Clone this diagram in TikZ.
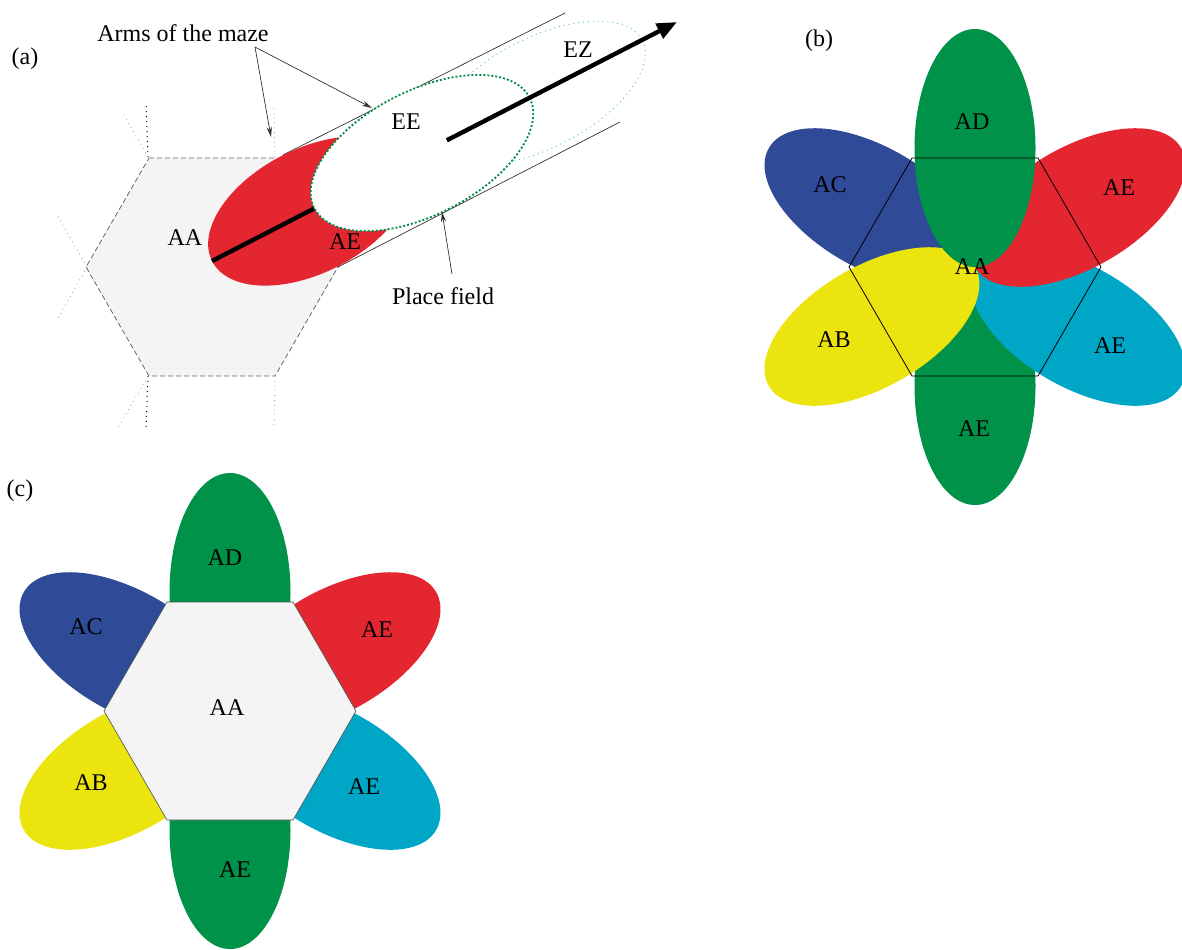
\documentclass[tikz,border=0pt]{standalone}
\usepackage{fontspec}
\setmainfont{Liberation Serif}
\usetikzlibrary{calc}
\usetikzlibrary{arrows.meta}
\definecolor{petalGreen}{RGB}{0,146,72}
\definecolor{petalBlue}{RGB}{47,74,150}
\definecolor{petalRed}{RGB}{228,38,49}
\definecolor{petalYellow}{RGB}{236,228,15}
\definecolor{petalCyan}{RGB}{0,166,198}
\definecolor{hexGray}{RGB}{244,244,244}
\definecolor{fieldGreen}{RGB}{0,140,70}
\definecolor{zoneCyan}{RGB}{70,185,200}
\tikzset{field label/.style={inner sep=1}}
\tikzset{pointer/.style={-{Stealth[length=5pt,width=2.6pt]}, line width=0.35pt, black!80}}
\newcommand{\petal}[2]{\fill[#2, rotate=#1] (119,0) ellipse (119 and 60.5);}

\begin{document}
\begin{tikzpicture}[x=0.5pt, y=-0.5pt, font=\fontsize{12}{14}\selectfont]
            \useasboundingbox (0,0) rectangle (1182,949);

            \def \hexagonPath{(-63,-109) -- (63,-109) -- (126,0) -- (63,109) -- (-63,109) -- (-126,0) -- cycle}
            \def \mazeCenter{212,267}
            \def \flowerCenter{975,267}
            \def \tileCenter{230,711}

            % (a) the hexagon and one arm
            \scope[shift={(\mazeCenter)}]
              \fill[hexGray] \hexagonPath;
              \draw[black!60, line width=0.4pt, dash pattern=on 2.5pt off 1.5pt] \hexagonPath;
            \endscope
            \draw[black, line width=0.5pt, dotted] (148,157) -- (146,105);
            \draw[gray!80, line width=0.4pt, dotted] (148,157) -- (123,113);
            \draw[gray!80, line width=0.4pt, dotted] (87,267) -- (57,215);
            \draw[gray!80, line width=0.4pt, dotted] (87,267) -- (57,320);
            \draw[black, line width=0.5pt, dotted] (148,376) -- (146,428);
            \draw[gray!80, line width=0.4pt, dotted] (148,376) -- (118,428);
            \draw[gray!80, line width=0.4pt, dotted] (275,157) -- (274,105);
            \draw[gray!80, line width=0.4pt, dotted] (275,376) -- (274,428);
            \draw[black!80, line width=0.35pt] (283,155) -- (565,13);
            \draw[black!80, line width=0.35pt] (338,267) -- (620,122);

            \coordinate (pathStart) at (212,261);
            \coordinate (pathEnd) at (677,22);
            \draw[zoneCyan, line width=0.45pt, dotted, rotate around={27.2:(540,93)}] (540,93) ellipse (115 and 55);
            \fill[petalRed, rotate around={27.2:(310,211)}] (310,211) ellipse (110 and 62);
            \draw[line width=2.2pt] (pathStart) -- ($(pathStart)!0.45!(pathEnd)$);
            \fill[white, rotate around={27.2:(422,153)}] (422,153) ellipse (121 and 62);
            \draw[fieldGreen, line width=0.9pt, dash pattern=on 1pt off 1pt, rotate around={27.2:(422,153)}] (422,153) ellipse (121 and 62);
            \draw[line width=2.2pt, -{Triangle[length=10pt,width=8pt]}] ($(pathStart)!0.505!(pathEnd)$) -- (pathEnd);

            \node[field label] (labelA) at (25,59) {(a)};
            \node[field label] (armsLabel) at (183,33) {Arms of the maze};
            \node[field label] (mazeAA) at (185,238) {AA};
            \node[field label] (mazeAE) at (345,242) {AE};
            \node[field label] (mazeEE) at (406,122) {EE};
            \node[field label] (mazeEZ) at (578,50) {EZ};
            \node[field label] (placeLabel) at (443,296) {Place field};
            \coordinate (armsFork) at (255,47);
            \coordinate (armTipLeft) at (271,137);
            \coordinate (armTipRight) at (372,108);
            \coordinate (placeFork) at (452,274);
            \coordinate (placeTip) at (442,212);
            \draw[pointer] (armsFork) -- (armTipLeft);
            \draw[pointer] (armsFork) -- (armTipRight);
            \draw[pointer] (placeFork) -- (placeTip);

            % (b) overlapping place fields
            \scope[shift={(\flowerCenter)}]
              \petal{270}{petalGreen}
              \petal{330}{petalCyan}
              \petal{30}{petalRed}
              \petal{150}{petalBlue}
              \petal{210}{petalYellow}
              \petal{90}{petalGreen}
              \draw[black, line width=0.4pt] \hexagonPath;
            \endscope
            \node[field label] (labelB) at (819,41) {(b)};
            \node[field label] (flowerAD) at (972,122) {AD};
            \node[field label] (flowerAC) at (830,185) {AC};
            \node[field label] (flowerAEa) at (1119,188) {AE};
            \node[field label] (flowerAA) at (972,267) {AA};
            \node[field label] (flowerAB) at (834,340) {AB};
            \node[field label] (flowerAEb) at (1110,346) {AE};
            \node[field label] (flowerAEc) at (974,429) {AE};

            % (c) fields cut by the central platform
            \scope[shift={(\tileCenter)}]
              \petal{270}{petalGreen}
              \petal{330}{petalCyan}
              \petal{30}{petalRed}
              \petal{150}{petalBlue}
              \petal{210}{petalYellow}
              \petal{90}{petalGreen}
              \fill[hexGray] \hexagonPath;
              \draw[black!70, line width=0.3pt] \hexagonPath;
            \endscope
            \node[field label] (labelC) at (20,491) {(c)};
            \node[field label] (tileAD) at (225,558) {AD};
            \node[field label] (tileAC) at (86,627) {AC};
            \node[field label] (tileAEa) at (377,630) {AE};
            \node[field label] (tileAA) at (227,708) {AA};
            \node[field label] (tileAB) at (91,783) {AB};
            \node[field label] (tileAEb) at (364,787) {AE};
            \node[field label] (tileAEc) at (235,870) {AE};

          \end{tikzpicture}
\end{document}
